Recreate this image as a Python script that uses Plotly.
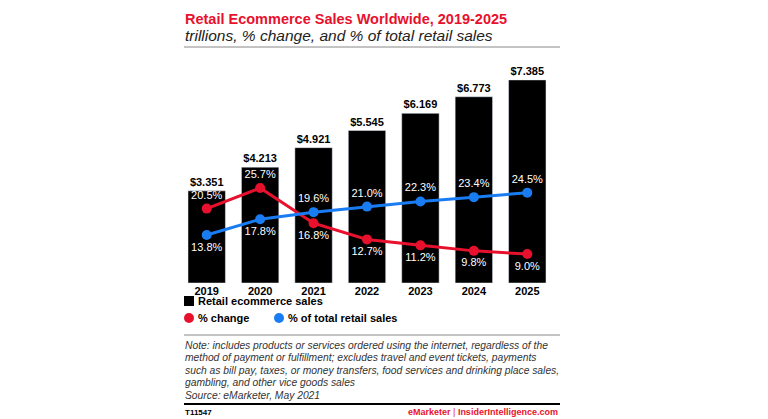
import plotly.graph_objects as go

years = ["2019", "2020", "2021", "2022", "2023", "2024", "2025"]
sales = [3.351, 4.213, 4.921, 5.545, 6.169, 6.773, 7.385]
sales_labels = ["$3.351", "$4.213", "$4.921", "$5.545", "$6.169", "$6.773", "$7.385"]
pct_change = [20.5, 25.7, 16.8, 12.7, 11.2, 9.8, 9.0]
pct_total = [13.8, 17.8, 19.6, 21.0, 22.3, 23.4, 24.5]
change_pos = ["top center", "top center", "bottom center", "bottom center", "bottom center", "bottom center", "bottom center"]
total_pos = ["bottom center", "bottom center", "top center", "top center", "top center", "top center", "top center"]

W, H = 768, 419
OFF = 8
px = lambda x: (x - OFF) / W
py = lambda y: 1 - (y - OFF) / H
FONT = "Liberation Sans"
RED = "#e8112d"
BLUE = "#1a7cf2"

fig = go.Figure()
fig.add_bar(x=years, y=sales, marker_color="black", text=sales_labels, textposition="outside",
            textfont=dict(family=FONT, size=11, color="black", weight="bold"), cliponaxis=False, showlegend=False)
fig.add_scatter(x=years, y=pct_change, yaxis="y2", mode="lines+markers+text", line=dict(color=RED, width=3),
                marker=dict(size=10, color=RED), text=[f"{v:.1f}%" for v in pct_change], textposition=change_pos,
                textfont=dict(family=FONT, size=11, color="white"), cliponaxis=False, showlegend=False)
fig.add_scatter(x=years, y=pct_total, yaxis="y2", mode="lines+markers+text", line=dict(color=BLUE, width=3),
                marker=dict(size=10, color=BLUE), text=[f"{v:.1f}%" for v in pct_total], textposition=total_pos,
                textfont=dict(family=FONT, size=11, color="white"), cliponaxis=False, showlegend=False)

fig.update_layout(
    width=W, height=H, margin=dict(l=0, r=0, t=0, b=0), plot_bgcolor="white", paper_bgcolor="white",
    bargap=0.3, font=dict(family=FONT),
    xaxis=dict(domain=[px(180), px(554)], showgrid=False, showline=False, ticks="",
               tickfont=dict(family=FONT, size=11, color="black", weight="bold")),
    yaxis=dict(domain=[py(283), py(60)], range=[0, 223 / 27.5], visible=False, showgrid=False),
    yaxis2=dict(overlaying="y", range=[1.67, 58.1], visible=False, showgrid=False),
)

shapes = [
    dict(type="line", x0=px(184), x1=px(560), y0=py(5), y1=py(5), line=dict(color="black", width=2.5)),
    dict(type="line", x0=px(184), x1=px(560), y0=py(47), y1=py(47), line=dict(color="#888", width=1)),
    dict(type="line", x0=px(184), x1=px(560), y0=py(335), y1=py(335), line=dict(color="#888", width=1)),
    dict(type="line", x0=px(184), x1=px(560), y0=py(404), y1=py(404), line=dict(color="black", width=2)),
    dict(type="rect", x0=px(184), x1=px(194), y0=py(296), y1=py(306), fillcolor="black", line_width=0),
    dict(type="circle", x0=px(184), x1=px(194), y0=py(313), y1=py(323), fillcolor=RED, line_width=0),
    dict(type="circle", x0=px(274), x1=px(284), y0=py(313), y1=py(323), fillcolor=BLUE, line_width=0),
]
for s in shapes:
    s.update(xref="paper", yref="paper")
fig.update_layout(shapes=shapes)

def ann(x, y, text, size=11, color="black", xanchor="left", **kw):
    fig.add_annotation(x=px(x), y=py(y), xref="paper", yref="paper", text=text, showarrow=False,
                       xanchor=xanchor, yanchor="middle", font=dict(family=FONT, size=size, color=color), **kw)

ann(183, 19, "<b>Retail Ecommerce Sales Worldwide, 2019-2025</b>", size=14.5, color=RED)
ann(183, 35, "<i>trillions, % change, and % of total retail sales</i>", size=15.5, color="#222")
ann(196, 301, "<b>Retail ecommerce sales</b>", size=11)
ann(196, 318, "<b>% change</b>", size=11)
ann(286, 318, "<b>% of total retail sales</b>", size=11)
notes = ["Note: includes products or services ordered using the internet, regardless of the",
         "method of payment or fulfillment; excludes travel and event tickets, payments",
         "such as bill pay, taxes, or money transfers, food services and drinking place sales,",
         "gambling, and other vice goods sales",
         "Source: eMarketer, May 2021"]
for i, t in enumerate(notes):
    ann(183, 345 + i * 12.6, f"<i>{t}</i>", size=10.3, color="#333")
ann(183, 412, "<b>T11547</b>", size=8)
ann(560, 412, "<b>eMarketer</b> | <b><span style='color:#e8112d'>InsiderIntelligence.com</span></b>",
    size=9, color=RED, xanchor="right")

fig.write_html("out.html")
